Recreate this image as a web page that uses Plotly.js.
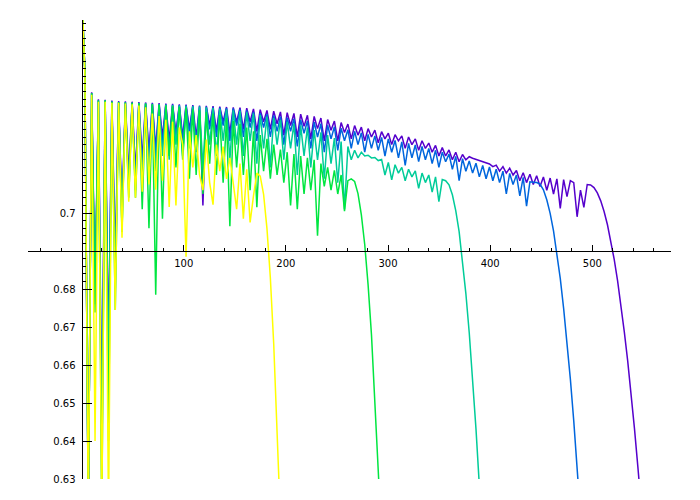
<!DOCTYPE html>
<html><head><meta charset="utf-8">
<script src="https://cdn.plot.ly/plotly-3.0.1.min.js"></script>
<style>html,body{margin:0;padding:0;background:#fff}</style>
</head><body><div id="chart" style="width:700px;height:500px"></div>
<script>
const xs = [0,3.3,6.6,9.9,13.2,16.5,19.8,23.1,26.4,29.7,33,36.3,39.6,42.9,46.2,49.5,52.8,56.1,59.4,62.7,66,69.3,72.6,75.9,79.2,82.5,85.8,89.1,92.4,95.7,99,102.3,105.6,108.9,112.2,115.5,118.8,122.1,125.4,128.7,132,135.3,138.6,141.9,145.2,148.5,151.8,155.1,158.4,161.7,165,168.3,171.6,174.9,178.2,181.5,184.8,188.1,191.4,194.7,198,201.3,204.6,207.9,211.2,214.5,217.8,221.1,224.4,227.7,231,234.3,237.6,240.9,244.2,247.5,250.8,254.1,257.4,260.7,264,267.3,270.6,273.9,277.2,280.5,283.8,287.1,290.4,293.7,297,300.3,303.6,306.9,310.2,313.5,316.8,320.1,323.4,326.7,330,333.3,336.6,339.9,343.2,346.5,349.8,353.1,356.4,359.7,363,366.3,369.6,372.9,376.2,379.5,382.8,386.1,389.4,392.7,396,399.3,402.6,405.9,409.2,412.5,415.8,419.1,422.4,425.7,429,432.3,435.6,438.9,442.2,445.5,448.8,452.1,455.4,458.7,462,465.3,468.6,471.9,475.2,478.5,481.8,485.1,488.4,491.7,495,498.3,501.6,504.9,508.2,511.5,514.8,518.1,521.4,524.7,528,531.3,534.6,537.9,541.2,544.5,547.8];

const purpleY = [0.76,0.7370,0.62,0.7318,0.6800,0.7299,0.645,0.7298,0.665,0.7296,
0.6880,0.7295,0.7010,0.7294,0.7100,0.7293,0.7110,0.7292,0.7140,0.7291,
0.7160,0.7290,0.7170,0.7289,0.7200,0.7288,0.7190,0.7287,0.7210,0.7286,
0.7200,0.7285,0.7220,0.7284,0.7200,0.7283,0.7020,0.7282,0.7230,0.7281,
0.7215,0.7280,0.7240,0.7279,0.7210,0.7278,0.7240,0.7277,0.7220,0.7276,
0.7240,0.7274,0.7215,0.7272,0.7240,0.7270,0.7220,0.7268,0.7235,0.7266,
0.7205,0.7264,0.7230,0.7262,0.7200,0.7260,0.7228,0.7257,0.7195,0.7254,
0.7222,0.7250,0.7190,0.7246,0.7218,0.7242,0.7190,0.7238,0.7212,0.7234,
0.7195,0.7230,0.7205,0.7226,0.7190,0.7222,0.7200,0.7218,0.7185,0.7214,
0.7195,0.7210,0.7180,0.7206,0.7190,0.7203,0.7170,0.7200,0.7180,0.7195,
0.7165,0.7190,0.7170,0.7184,0.7160,0.7178,0.7150,0.7172,0.7150,0.7166,
0.7140,0.7160,0.7135,0.7154,0.7140,0.7148,0.7144,0.7141,0.7138,0.7135,
0.7132,0.7129,0.7122,0.7126,0.7110,0.7122,0.7105,0.7118,0.7100,0.7112,
0.7085,0.7106,0.7080,0.7102,0.7075,0.7098,0.7070,0.7095,0.7060,0.7092,
0.7050,0.7090,0.7012,0.7088,0.7043,0.7085,0.7080,0.6990,0.7060,0.7015,
0.7075,0.7074,0.7067,0.7053,0.7032,0.7004,0.6969,0.6926,0.6878,0.6822,
0.6758,0.6687,0.6611,0.6526,0.6434,0.6334,0.6230];

const blueY = [0.76,0.7368,0.62,0.7316,0.6780,0.7297,0.64,0.7296,0.660,0.7294,
0.6850,0.7293,0.6990,0.7292,0.7080,0.7291,0.7090,0.7290,0.7120,0.7289,
0.7140,0.7288,0.7150,0.7287,0.7180,0.7286,0.7170,0.7285,0.7200,0.7284,
0.7190,0.7283,0.7210,0.7282,0.7180,0.7281,0.7060,0.7280,0.7220,0.7278,
0.7200,0.7277,0.7230,0.7276,0.7190,0.7275,0.7230,0.7273,0.7200,0.7270,
0.7225,0.7266,0.7190,0.7263,0.7225,0.7260,0.7200,0.7257,0.7215,0.7254,
0.7180,0.7251,0.7215,0.7248,0.7175,0.7245,0.7210,0.7242,0.7170,0.7239,
0.7200,0.7235,0.7160,0.7231,0.7195,0.7227,0.7165,0.7223,0.7190,0.7219,
0.7170,0.7215,0.7180,0.7211,0.7160,0.7207,0.7170,0.7203,0.7165,0.7199,
0.7150,0.7195,0.7160,0.7191,0.7145,0.7187,0.7125,0.7183,0.7145,0.7179,
0.7135,0.7175,0.7140,0.7170,0.7130,0.7165,0.7120,0.7160,0.7135,0.7155,
0.7115,0.7149,0.7085,0.7143,0.7110,0.7137,0.7105,0.7131,0.7095,0.7125,
0.7090,0.7121,0.7085,0.7115,0.7080,0.7110,0.7050,0.7104,0.7075,0.7100,
0.7045,0.7094,0.7018,0.7082,0.7081,0.7080,0.7076,0.7061,0.7035,0.6999,
0.6953,0.6896,0.6828,0.6749,0.6664,0.6563,0.6453,0.6331,0.6203];

const tealY = [0.76,0.7368,0.62,0.7315,0.6760,0.7296,0.63,0.7296,0.655,0.7293,
0.6800,0.7292,0.6960,0.7291,0.7060,0.7290,0.7060,0.7289,0.7080,0.7288,
0.7100,0.7287,0.7110,0.7286,0.7150,0.7285,0.7140,0.7284,0.7180,0.7283,
0.7150,0.7282,0.7170,0.7281,0.7160,0.7280,0.7120,0.7278,0.7180,0.7276,
0.7150,0.7274,0.7190,0.7272,0.7140,0.7270,0.7180,0.7268,0.7150,0.7265,
0.7190,0.7262,0.7130,0.7258,0.7170,0.7254,0.7120,0.7250,0.7180,0.7245,
0.7140,0.7240,0.7170,0.7235,0.7100,0.7230,0.7150,0.7225,0.7120,0.7218,
0.7140,0.7212,0.7090,0.7205,0.7130,0.7197,0.7080,0.7188,0.7010,0.7175,
0.7140,0.7165,0.7145,0.7160,0.7150,0.7152,0.7145,0.7146,0.7138,0.7141,
0.7100,0.7133,0.7087,0.7127,0.7105,0.7120,0.7085,0.7115,0.7095,0.7111,
0.7065,0.7105,0.7080,0.7100,0.7055,0.7095,0.7030,0.7088,0.7085,0.7074,
0.7048,0.7006,0.6951,0.6877,0.6788,0.6685,0.6567,0.6432,0.6282];

const greenY = [0.76,0.7368,0.62,0.7315,0.6738,0.7296,0.62,0.7296,0.64,0.7293,
0.6745,0.7292,0.6950,0.7291,0.7040,0.7290,0.7040,0.7289,0.7010,0.7288,
0.6960,0.7286,0.6785,0.7285,0.6985,0.7283,0.7150,0.7281,0.7120,0.7279,
0.7140,0.7276,0.7090,0.7273,0.7100,0.7270,0.7050,0.7266,0.7130,0.7262,
0.7100,0.7258,0.7080,0.7250,0.6965,0.7242,0.7120,0.7235,0.7100,0.7225,
0.7060,0.7215,0.7015,0.7205,0.7110,0.7195,0.7090,0.7180,0.7100,0.7167,
0.7080,0.7160,0.7020,0.7155,0.7010,0.7150,0.7050,0.7145,0.7060,0.7140,
0.6940,0.7130,0.7070,0.7120,0.7060,0.7112,0.7050,0.7100,0.7005,0.7085,
0.7090,0.7083,0.7051,0.6995,0.6917,0.6811,0.6680,0.6525,0.6351,0.6145];

const yellowY = [0.76,0.7364,0.62,0.7311,0.64,0.7293,0.62,0.7293,0.62,0.7290,
0.6745,0.7290,0.6935,0.7288,0.7030,0.7286,0.7040,0.7283,0.7056,0.7278,
0.7075,0.7262,0.7061,0.7255,0.7085,0.7245,0.7016,0.7240,0.7020,0.7225,
0.7180,0.6885,0.7215,0.7120,0.7205,0.7100,0.7060,0.7193,0.7080,0.7022,
0.7180,0.7110,0.7175,0.7090,0.7145,0.7080,0.7010,0.7130,0.6985,0.7115,
0.6975,0.7045,0.7105,0.7097,0.7049,0.6959,0.6830,0.6656,0.6441,0.6190];

const seriesY = [purpleY, blueY, tealY, greenY, yellowY];
const seriesColors = ['#5500cc', '#0066dd', '#00cc99', '#00e640', '#ffff00'];

const xTickVals = [100, 200, 300, 400, 500];
const xTickText = ['100', '200', '300', '400', '500'];
const xMinorVals = [-40,-20,20,40,60,80,120,140,160,180,220,240,260,280,320,340,360,380,420,440,460,480,520,540,560];
const yTickVals = [0.63, 0.64, 0.65, 0.66, 0.67, 0.68, 0.7];
const yTickText = ['0.63', '0.64', '0.65', '0.66', '0.67', '0.68', '0.7'];
const yMinorVals = [0.682,0.684,0.686,0.688,0.692,0.694,0.696,0.698,0.702,0.704,0.706,0.708,0.71,0.712,0.714,0.716,0.718,0.72,0.722,0.724,0.726,0.728,0.73,0.732,0.734,0.736,0.738,0.74,0.742,0.744,0.746,0.748,0.75];

const traces = seriesY.map((ys, k) => ({
  type: 'scatter', mode: 'lines',
  x: xs.slice(0, ys.length), y: ys,
  line: {color: seriesColors[k], width: 1.5},
  hoverinfo: 'skip'
}));

const tickFont = {family: 'DejaVu Sans, sans-serif', size: 10, color: '#000'};
const layout = {
  width: 700, height: 500,
  margin: {l: 28, r: 29, t: 20, b: 21},
  paper_bgcolor: '#fff', plot_bgcolor: '#fff',
  showlegend: false,
  xaxis: {
    range: [-52.42, 577.0], anchor: 'free', position: 0.49673,
    showgrid: false, zeroline: false, showline: true, linecolor: '#000', linewidth: 1,
    tickmode: 'array', tickvals: xTickVals, ticktext: xTickText,
    ticks: 'inside', ticklen: 6, tickwidth: 1, tickcolor: '#000',
    minor: {tickmode: 'array', tickvals: xMinorVals, ticks: 'inside', ticklen: 3, tickwidth: 1, tickcolor: '#000', showgrid: false},
    tickfont: tickFont, ticklabelstandoff: 3
  },
  yaxis: {
    range: [0.63, 0.75079], anchor: 'free', position: 0.08327,
    showgrid: false, zeroline: false, showline: true, linecolor: '#000', linewidth: 1,
    tickmode: 'array', tickvals: yTickVals, ticktext: yTickText,
    ticks: 'inside', ticklen: 9, tickwidth: 1, tickcolor: '#000',
    minor: {tickmode: 'array', tickvals: yMinorVals, ticks: 'inside', ticklen: 3, tickwidth: 1, tickcolor: '#000', showgrid: false},
    tickfont: tickFont, ticklabelstandoff: 4
  }
};

Plotly.newPlot('chart', traces, layout, {staticPlot: true, displayModeBar: false});
</script>
</body></html>
